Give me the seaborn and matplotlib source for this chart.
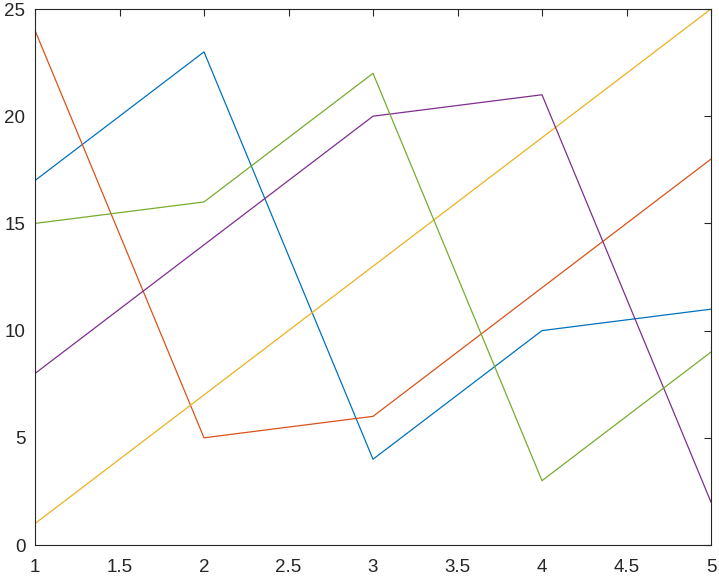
import pandas as pd
import matplotlib.pyplot as plt
import seaborn as sns

sns.set_style('white')
plt.rcParams['font.family'] = ['Liberation Sans', 'DejaVu Sans']

x = [1, 2, 3, 4, 5]
col1 = [17, 23, 4, 10, 11]
col2 = [24, 5, 6, 12, 18]
col3 = [1, 7, 13, 19, 25]
col4 = [8, 14, 20, 21, 2]
col5 = [15, 16, 22, 3, 9]
series = ['c1', 'c2', 'c3', 'c4', 'c5']
colors = ['#0072BD', '#D95319', '#EDB120', '#7E2F8E', '#77AC30']

df = pd.concat([pd.DataFrame({'x': x, 'y': v, 'series': s})
                for s, v in zip(series, [col1, col2, col3, col4, col5])])

fig = plt.figure(figsize=(7.19, 5.77), dpi=100)
ax = fig.add_axes([35 / 719, 1 - 545 / 577, 676 / 719, 536 / 577])
sns.lineplot(data=df, x='x', y='y', hue='series', palette=colors, ax=ax,
             linewidth=0.9, legend=False)

ax.set_xlim(1, 5)
ax.set_ylim(0, 25)
ax.set_xticks([1, 1.5, 2, 2.5, 3, 3.5, 4, 4.5, 5])
ax.set_xticklabels(['1', '1.5', '2', '2.5', '3', '3.5', '4', '4.5', '5'])
ax.set_yticks([0, 5, 10, 15, 20, 25])
ax.set_xlabel('')
ax.set_ylabel('')
ax.tick_params(direction='in', length=5, width=0.8, labelsize=13.5, colors='#262626',
               top=True, right=True)
ax.tick_params(axis='x', pad=10)
ax.tick_params(axis='y', pad=7)
for sp in ax.spines.values():
    sp.set_color('#262626')
    sp.set_linewidth(0.8)

fig.savefig('out.png', dpi=100)
